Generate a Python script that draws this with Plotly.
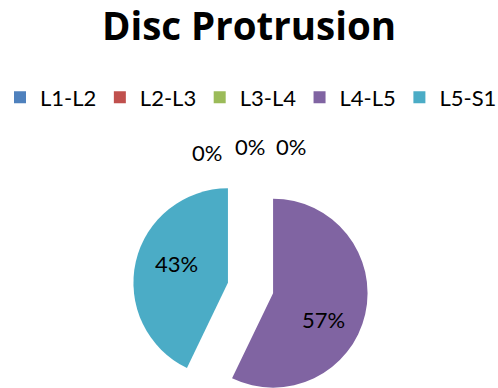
import math
import plotly.graph_objects as go

# Disc protrusion level counts
levels = ["L1-L2", "L2-L3", "L3-L4", "L4-L5", "L5-S1"]
patients = [0, 0, 0, 4, 3]
colors = ["#4F81BD", "#C0504D", "#9BBB59", "#8064A2", "#4BACC6"]

W, H = 498, 388
FONT = "Lato"
cx, cy = 250.5, 288.0      # pie centre (px)
radius = 94.5              # slice radius (px)
explode = 0.245            # explosion distance as a fraction of radius

# Percent label centres (px), in level order
label_pos = [(207, 153), (250, 146), (291, 146), (323, 319), (176, 263)]

total = sum(patients)
CLEAR = "rgba(0,0,0,0)"

fig = go.Figure()

# Legend carrier: the full pie at negligible size so the legend shows every level
fig.add_trace(go.Pie(
    labels=levels, values=patients, sort=False, direction="clockwise", rotation=0,
    marker=dict(colors=colors, line=dict(width=0)),
    textinfo="none", hoverinfo="skip",
    domain=dict(x=[0, 0.0001], y=[0, 0.0001]),
    showlegend=True,
))

# Each non-empty slice is drawn by its own copy of the pie, shifted along the slice bisector
start = 0.0
for i, v in enumerate(patients):
    frac = v / total
    mid = (start + frac / 2) * 2 * math.pi
    start += frac
    if v == 0:
        continue
    sx = cx + explode * radius * math.sin(mid)
    sy = cy - explode * radius * math.cos(mid)
    slice_colors = [c if j == i else CLEAR for j, c in enumerate(colors)]
    fig.add_trace(go.Pie(
        labels=levels, values=patients, sort=False, direction="clockwise", rotation=0,
        marker=dict(colors=slice_colors, line=dict(width=0)),
        textinfo="none",
        hovertemplate="%{label}: %{value}<extra></extra>",
        domain=dict(
            x=[(sx - radius) / W, (sx + radius) / W],
            y=[max(0.0, (H - (sy + radius)) / H), (H - (sy - radius)) / H],
        ),
        showlegend=False,
    ))

# Percent labels for every level
for (px, py), v in zip(label_pos, patients):
    fig.add_annotation(
        x=px / W, y=1 - py / H, xref="paper", yref="paper",
        text=f"{v / total:.0%}", showarrow=False,
        xanchor="center", yanchor="middle",
        font=dict(family=FONT, size=22, color="#000000"),
    )

fig.update_layout(
    width=W, height=H,
    margin=dict(l=0, r=0, t=0, b=0),
    paper_bgcolor="white", plot_bgcolor="white",
    title=dict(
        text="Disc Protrusion", x=0.5, xanchor="center",
        y=1 - 27 / H, yanchor="middle",
        font=dict(family="Open Sans", size=38.5, color="#000000", weight=700),
    ),
    legend=dict(
        orientation="h", x=0.0, xanchor="left",
        y=1 - 97.5 / H, yanchor="middle",
        font=dict(family=FONT, size=22, color="#000000"),
        entrywidth=0.2005, entrywidthmode="fraction",
        traceorder="normal",
    ),
)

fig.write_html("out.html")
